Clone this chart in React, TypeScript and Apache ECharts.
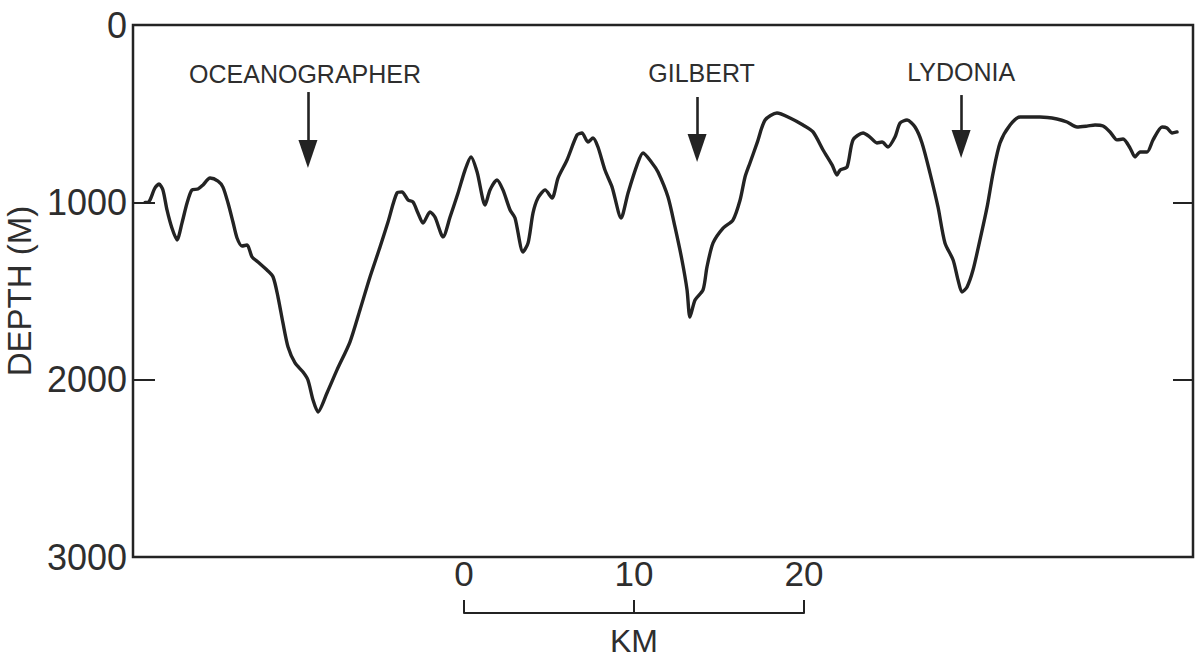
import React, { useEffect, useRef } from "react";
import * as echarts from "echarts";

// Along-track distance (km) and depth (m) of the profile
const distanceKm = [
  0.71, 0.88, 1.0, 1.29, 1.53, 1.76, 2.0, 2.29, 2.59, 2.88,
  3.18, 3.47, 3.82, 4.12, 4.53, 5.0, 5.29, 5.59, 5.88, 6.12,
  6.41, 6.71, 7.0, 7.35, 7.88, 8.24, 8.53, 8.82, 9.12, 9.53,
  10.0, 10.29, 10.59, 10.88, 11.41, 12.0, 12.76, 13.35, 13.94, 14.53,
  15.0, 15.53, 15.82, 16.18, 16.47, 16.76, 17.06, 17.47, 17.76, 18.24,
  18.65, 19.12, 19.53, 19.88, 20.24, 20.71, 21.0, 21.41, 21.76, 22.18,
  22.47, 22.94, 23.24, 23.53, 23.82, 24.24, 24.65, 25.0, 25.53, 26.12,
  26.41, 26.76, 27.06, 27.35, 27.76, 28.18, 28.71, 29.12, 29.65, 30.0,
  30.53, 30.88, 31.47, 31.88, 32.29, 32.59, 32.76, 33.06, 33.53, 33.76,
  34.12, 34.71, 35.29, 35.71, 36.0, 36.29, 36.71, 37.18, 37.88, 38.65,
  39.41, 40.0, 40.59, 41.12, 41.41, 41.59, 42.0, 42.35, 42.94, 43.35,
  43.76, 44.06, 44.41, 44.82, 45.12, 45.53, 46.0, 46.41, 46.88, 47.35,
  47.76, 48.24, 48.53, 48.76, 49.06, 49.41, 49.82, 50.24, 50.59, 51.0,
  51.59, 52.18, 53.35, 54.35, 54.94, 55.53, 56.12, 56.59, 57.06, 57.47,
  57.88, 58.24, 58.65, 58.94, 59.24, 59.65, 60.0, 60.53, 60.82, 61.12,
  61.41,
];
const depthM = [
  1000, 1000, 987, 919, 897, 930, 1043, 1145, 1212, 1117,
  1004, 930, 925, 902, 863, 880, 914, 1004, 1111, 1201,
  1246, 1241, 1308, 1336, 1382, 1421, 1534, 1680, 1816, 1906,
  1957, 2002, 2115, 2182, 2075, 1945, 1788, 1607, 1421, 1252,
  1111, 947, 942, 987, 998, 1060, 1117, 1054, 1083, 1195,
  1083, 947, 818, 744, 829, 1015, 930, 874, 930, 1043,
  1088, 1280, 1229, 1060, 976, 930, 976, 863, 761, 620,
  609, 660, 637, 688, 818, 914, 1088, 947, 789, 722,
  778, 829, 970, 1139, 1325, 1494, 1647, 1551, 1494, 1365,
  1229, 1145, 1100, 987, 857, 778, 665, 536, 496, 524,
  564, 603, 705, 789, 846, 818, 801, 648, 609, 632,
  665, 660, 688, 632, 553, 536, 575, 665, 835, 1026,
  1229, 1325, 1438, 1506, 1477, 1382, 1212, 1026, 835, 665,
  564, 519, 519, 530, 547, 575, 570, 564, 570, 603,
  648, 643, 694, 744, 716, 716, 648, 575, 581, 609,
  603,
];

const depthTicks = [0, 1000, 2000, 3000];
const profileLengthKm = 62.35;

// Named features with arrows
const featureNames = ["OCEANOGRAPHER", "GILBERT", "LYDONIA"];
const featureLabelKm = [10.12, 33.44, 48.71];
const featureLabelDepth = [276, 271, 265];
const arrowKm = [10.29, 33.18, 48.71];
const arrowStartDepth = [378, 406, 395];
const arrowEndDepth = [727, 694, 671];

// Scale bar
const scaleBarKm = [0, 10, 20];
const scaleBarUnit = "KM";

const INK = "#232323";
const TEXT = "#2e2e2e";
const FONT = "'Liberation Sans', 'DejaVu Sans', sans-serif";

export default function App() {
  const ref = useRef<HTMLDivElement>(null);

  useEffect(() => {
    if (!ref.current) return;
    const chart = echarts.init(ref.current, undefined, { renderer: "svg" });

    const profile = distanceKm.map((d, i) => [d, depthM[i]]);

    const option: any = {
      animation: false,
      backgroundColor: "#ffffff",
      grid: [
        {
          left: 133,
          right: 10,
          top: 25,
          bottom: 103,
          containLabel: false,
          outerBoundsMode: "none",
          show: true,
          borderColor: INK,
          borderWidth: 2.5,
          backgroundColor: "transparent",
        },
        {
          left: 464,
          right: 399,
          top: 613,
          bottom: 46,
          containLabel: false,
          outerBoundsMode: "none",
          show: false,
        },
      ],
      xAxis: [
        {
          gridIndex: 0,
          type: "value",
          min: 0,
          max: profileLengthKm,
          show: false,
        },
        {
          gridIndex: 1,
          type: "value",
          position: "top",
          min: scaleBarKm[0],
          max: scaleBarKm[scaleBarKm.length - 1],
          interval: scaleBarKm[1] - scaleBarKm[0],
          axisLine: { show: true, onZero: false, lineStyle: { color: INK, width: 2 } },
          axisTick: { show: true, inside: false, length: 13, lineStyle: { color: INK, width: 2 } },
          splitLine: { show: false },
          axisLabel: {
            show: true,
            margin: 22,
            fontSize: 35,
            color: TEXT,
            fontFamily: FONT,
            formatter: (v: number) => (scaleBarKm.includes(v) ? String(v) : ""),
          },
          name: scaleBarUnit,
          nameLocation: "middle",
          nameGap: -44,
          nameTextStyle: { fontSize: 32, color: TEXT, fontFamily: FONT },
        },
      ],
      yAxis: [
        {
          gridIndex: 0,
          type: "value",
          inverse: true,
          min: depthTicks[0],
          max: depthTicks[depthTicks.length - 1],
          interval: depthTicks[1] - depthTicks[0],
          position: "left",
          axisLine: { show: false },
          axisTick: { show: true, inside: true, length: 22, lineStyle: { color: INK, width: 2 } },
          splitLine: { show: false },
          axisLabel: {
            margin: 6,
            fontSize: 36,
            color: TEXT,
            fontFamily: FONT,
            formatter: (v: number) => String(v),
          },
          name: "DEPTH (M)",
          nameLocation: "middle",
          nameRotate: 90,
          nameGap: 94,
          nameTextStyle: { fontSize: 33, color: TEXT, fontFamily: FONT },
        },
        {
          gridIndex: 0,
          type: "value",
          inverse: true,
          min: depthTicks[0],
          max: depthTicks[depthTicks.length - 1],
          interval: depthTicks[1] - depthTicks[0],
          position: "right",
          axisLine: { show: false },
          axisTick: { show: true, inside: true, length: 20, lineStyle: { color: INK, width: 2 } },
          splitLine: { show: false },
          axisLabel: { show: false },
        },
        {
          gridIndex: 1,
          type: "value",
          show: false,
        },
      ],
      series: [
        {
          type: "line",
          xAxisIndex: 0,
          yAxisIndex: 0,
          data: profile,
          smooth: 0.25,
          showSymbol: false,
          symbol: "none",
          lineStyle: { color: INK, width: 3.4, cap: "round", join: "round" },
          silent: true,
          markLine: {
            silent: true,
            animation: false,
            symbol: ["none", "triangle"],
            symbolSize: [19, 28],
            lineStyle: { color: INK, width: 2.6, type: "solid" },
            label: { show: false },
            emphasis: { disabled: true },
            data: arrowKm.map((k, i) => [
              { coord: [k, arrowStartDepth[i]] },
              { coord: [k, arrowEndDepth[i]] },
            ]),
          },
          markPoint: {
            silent: true,
            symbol: "circle",
            symbolSize: 0,
            itemStyle: { color: "transparent" },
            label: {
              show: true,
              position: "inside",
              formatter: "{b}",
              fontSize: 25,
              color: TEXT,
              fontFamily: FONT,
            },
            data: featureNames.map((n, i) => ({
              name: n,
              coord: [featureLabelKm[i], featureLabelDepth[i]],
            })),
          },
        },
      ],
    };

    chart.setOption(option);
    return () => chart.dispose();
  }, []);

  return (
    <div
      ref={ref}
      style={{ position: "absolute", left: 0, top: 0, width: 1203, height: 660 }}
    />
  );
}
